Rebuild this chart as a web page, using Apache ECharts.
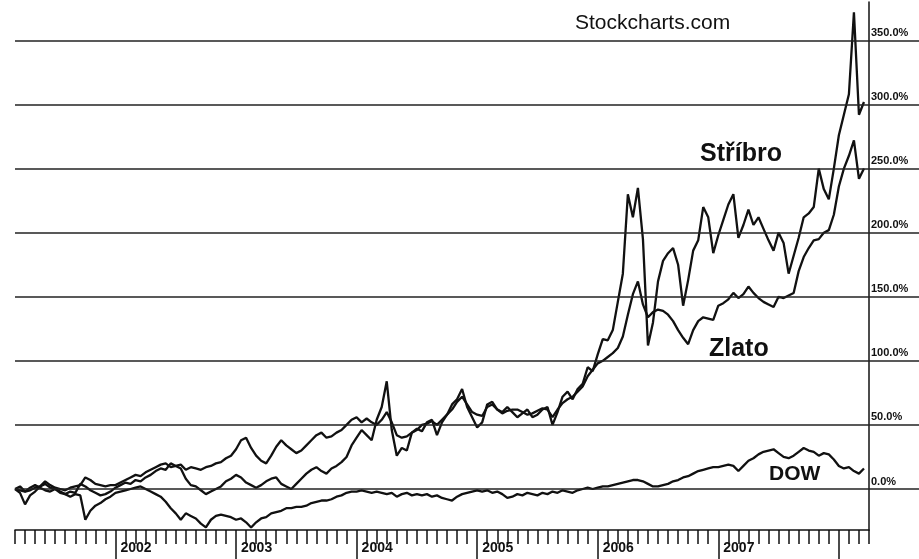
<!DOCTYPE html>
<html>
<head>
<meta charset="utf-8">
<script src="https://cdn.jsdelivr.net/npm/echarts@6/dist/echarts.min.js"></script>
<style>
html, body { margin: 0; padding: 0; background: #fff; }
#main { width: 919px; height: 559px; }
</style>
</head>
<body>
<div id="main"></div>
<script>
// pulměsíční body od 1. 3. 2001 do 1. 4. 2008
var halfMonths = [];
for (var y = 2001; y <= 2008; y++) {
    for (var m = 1; m <= 12; m++) {
        if (y === 2001 && m < 3) continue;
        if (y === 2008 && m > 4) break;
        var mm = (m < 10 ? '0' : '') + m;
        halfMonths.push(y + '-' + mm + '-01');
        if (!(y === 2008 && m === 4)) halfMonths.push(y + '-' + mm + '-16');
    }
}

var yearLabels = ['2002', '2003', '2004', '2005', '2006', '2007'];
var gridValues = [0, 50, 100, 150, 200, 250, 300, 350];

// změna v % od března 2001
var silver = [
    0, 2, -2, 1, 3, 1, -1, -2, 0, -3, -4, -2, -3, 4, 2, -1, -3, -5, -4, -2,
    1, 3, 5, 4, 7, 6, 9, 11, 14, 16, 15, 20, 18, 16, 8, 3, 2, -1, -4, -2, 0, 2, 6, 8,
    11, 9, 5, 3, 1, 3, 6, 8, 9, 4, 2, 0, 4, 8, 12, 15, 17, 14, 12, 16, 18, 21, 25, 34,
    40, 46, 42, 38, 54, 64, 84, 46, 26, 32, 30, 44, 47, 45, 52, 54, 42, 52, 58, 66, 70, 78, 64, 56,
    48, 52, 66, 68, 62, 60, 64, 60, 56, 59, 62, 56, 58, 62, 64, 50, 60, 72, 76, 70, 78, 82, 95, 92,
    105, 117, 116, 124, 146, 168, 230, 212, 235, 195, 112, 130, 162, 178, 184, 188, 175, 143, 163, 186, 194, 220, 212, 184,
    198, 210, 222, 230, 196, 206, 218, 206, 212, 203, 194, 186, 200, 192, 168, 182, 196, 212, 215, 220, 250, 234, 226, 250,
    276, 292, 308, 372, 292, 302
];
var gold = [
    0, -1, -2, -1, 1, 2, 6, 3, 1, 0, -1, 1, 2, 3, 9, 7, 4, 3, 2, 3,
    3, 5, 7, 9, 11, 10, 13, 15, 17, 19, 20, 17, 18, 19, 15, 17, 16, 15, 17, 18, 20, 21, 24, 26,
    31, 38, 40, 32, 26, 22, 20, 26, 33, 38, 34, 31, 28, 30, 34, 38, 42, 44, 40, 41, 44, 46, 50, 54,
    56, 52, 55, 52, 50, 54, 60, 52, 42, 40, 41, 44, 46, 50, 51, 53, 50, 54, 58, 62, 68, 72, 66, 60,
    58, 57, 64, 66, 62, 59, 61, 62, 62, 60, 58, 59, 61, 63, 62, 56, 62, 67, 70, 72, 76, 80, 88, 93,
    98, 100, 103, 106, 110, 119, 136, 152, 162, 144, 134, 138, 140, 139, 136, 131, 124, 118, 113, 124, 131, 134, 133, 132,
    143, 145, 148, 153, 149, 152, 158, 153, 149, 146, 144, 142, 150, 149, 151, 153, 170, 181, 188, 194, 195, 200, 202, 214,
    236, 250, 260, 272, 242, 250
];
var dow = [
    0, -3, -12, -5, -2, 2, 4, 1, 0, -2, -4, -6, -4, -5, -24, -17, -13, -11, -8, -6,
    -3, -2, -1, 0, 1, 2, 0, -2, -4, -6, -10, -15, -19, -24, -19, -21, -23, -27, -30, -24, -21, -20, -21, -22,
    -24, -23, -26, -30, -26, -23, -22, -19, -18, -17, -15, -15, -14, -14, -13, -11, -10, -9, -9, -8, -6, -5, -3, -2,
    -2, -1, -2, -3, -2, -3, -4, -3, -6, -4, -3, -5, -4, -5, -4, -6, -5, -7, -8, -9, -6, -4, -3, -2,
    -1, -2, -1, -3, -2, -4, -7, -6, -4, -5, -3, -4, -5, -3, -4, -2, -3, -1, -2, -3, -1, 0, 1, 0,
    1, 2, 2, 3, 4, 5, 6, 7, 7, 6, 4, 2, 2, 3, 4, 6, 7, 9, 10, 12, 14, 15, 16, 17,
    17, 18, 19, 18, 14, 18, 22, 24, 27, 29, 30, 31, 28, 25, 24, 26, 29, 32, 30, 29, 26, 28, 27, 23,
    18, 16, 17, 14, 12, 16
];

var ink = '#111';
var chart = echarts.init(document.getElementById('main'));

function isMonthStart(index, value) {
    return value.slice(8) === '01';
}
function isYearStart(index, value) {
    return value.slice(5) === '01-01';
}

function lineSeries(name, values) {
    return {
        name: name,
        type: 'line',
        xAxisIndex: 0,
        yAxisIndex: 0,
        data: values,
        showSymbol: false,
        silent: true,
        lineStyle: { color: ink, width: 2.3 },
        z: 3
    };
}

var gridLineData = gridValues.map(function (v) { return { yAxis: v }; });

var option = {
    animation: false,
    backgroundColor: '#fff',
    grid: [
        { left: 15, right: 50, top: 2, bottom: 29 },
        { left: 869, right: 0, top: 2, bottom: 29 }
    ],
    xAxis: [
        {
            gridIndex: 0,
            type: 'category',
            data: halfMonths,
            boundaryGap: false,
            axisLine: { onZero: false, lineStyle: { color: ink, width: 1.5 } },
            axisTick: { interval: isMonthStart, length: 14, lineStyle: { color: ink, width: 1.5 } },
            axisLabel: { show: false },
            splitLine: { show: false }
        },
        {
            gridIndex: 0,
            type: 'category',
            data: halfMonths,
            boundaryGap: false,
            position: 'bottom',
            axisLine: { show: false, onZero: false },
            axisTick: { interval: isYearStart, length: 29, lineStyle: { color: ink, width: 1.5 } },
            axisLabel: {
                interval: function (index, value) {
                    return isYearStart(index, value) && yearLabels.indexOf(value.slice(0, 4)) > -1;
                },
                formatter: function (value) { return value.slice(0, 4); },
                align: 'left',
                margin: 11,
                padding: [0, 0, 0, 5],
                color: ink,
                fontWeight: 'bold',
                fontSize: 14,
                fontFamily: 'Liberation Sans'
            },
            splitLine: { show: false }
        },
        { gridIndex: 1, type: 'value', min: 0, max: 1, show: false }
    ],
    yAxis: [
        {
            gridIndex: 0,
            type: 'value',
            position: 'right',
            min: -32,
            max: 380,
            axisLine: { show: true, lineStyle: { color: ink, width: 1.5 } },
            axisTick: { show: false },
            axisLabel: { show: false },
            splitLine: { show: false }
        },
        { gridIndex: 1, type: 'value', min: -32, max: 380, show: false }
    ],
    series: [
        {
            name: 'mrizka',
            type: 'line',
            xAxisIndex: 0,
            yAxisIndex: 0,
            data: [],
            markLine: {
                silent: true,
                symbol: ['none', 'none'],
                label: { show: false },
                lineStyle: { color: '#222', width: 1.6, type: 'solid' },
                data: gridLineData
            }
        },
        {
            name: 'popisky',
            type: 'line',
            xAxisIndex: 2,
            yAxisIndex: 1,
            data: [],
            markLine: {
                silent: true,
                symbol: ['none', 'none'],
                lineStyle: { color: '#222', width: 1.6, type: 'solid' },
                label: {
                    show: true,
                    position: 'insideStartTop',
                    distance: 2,
                    formatter: function (p) { return p.value.toFixed(1) + '%'; },
                    color: ink,
                    fontWeight: 'bold',
                    fontSize: 11,
                    fontFamily: 'Liberation Sans'
                },
                data: gridLineData
            }
        },
        lineSeries('DOW', dow),
        lineSeries('Zlato', gold),
        lineSeries('Stříbro', silver)
    ],
    graphic: [
        { type: 'text', left: 575, top: 13, style: { text: 'Stockcharts.com', font: '21px "Liberation Sans"', fill: ink } },
        { type: 'text', left: 700, top: 142, style: { text: 'Stříbro', font: 'bold 25px "Liberation Sans"', fill: ink } },
        { type: 'text', left: 709, top: 337, style: { text: 'Zlato', font: 'bold 25px "Liberation Sans"', fill: ink } },
        { type: 'text', left: 769, top: 464, style: { text: 'DOW', font: 'bold 21px "Liberation Sans"', fill: ink } }
    ]
};

chart.setOption(option);
</script>
</body>
</html>
